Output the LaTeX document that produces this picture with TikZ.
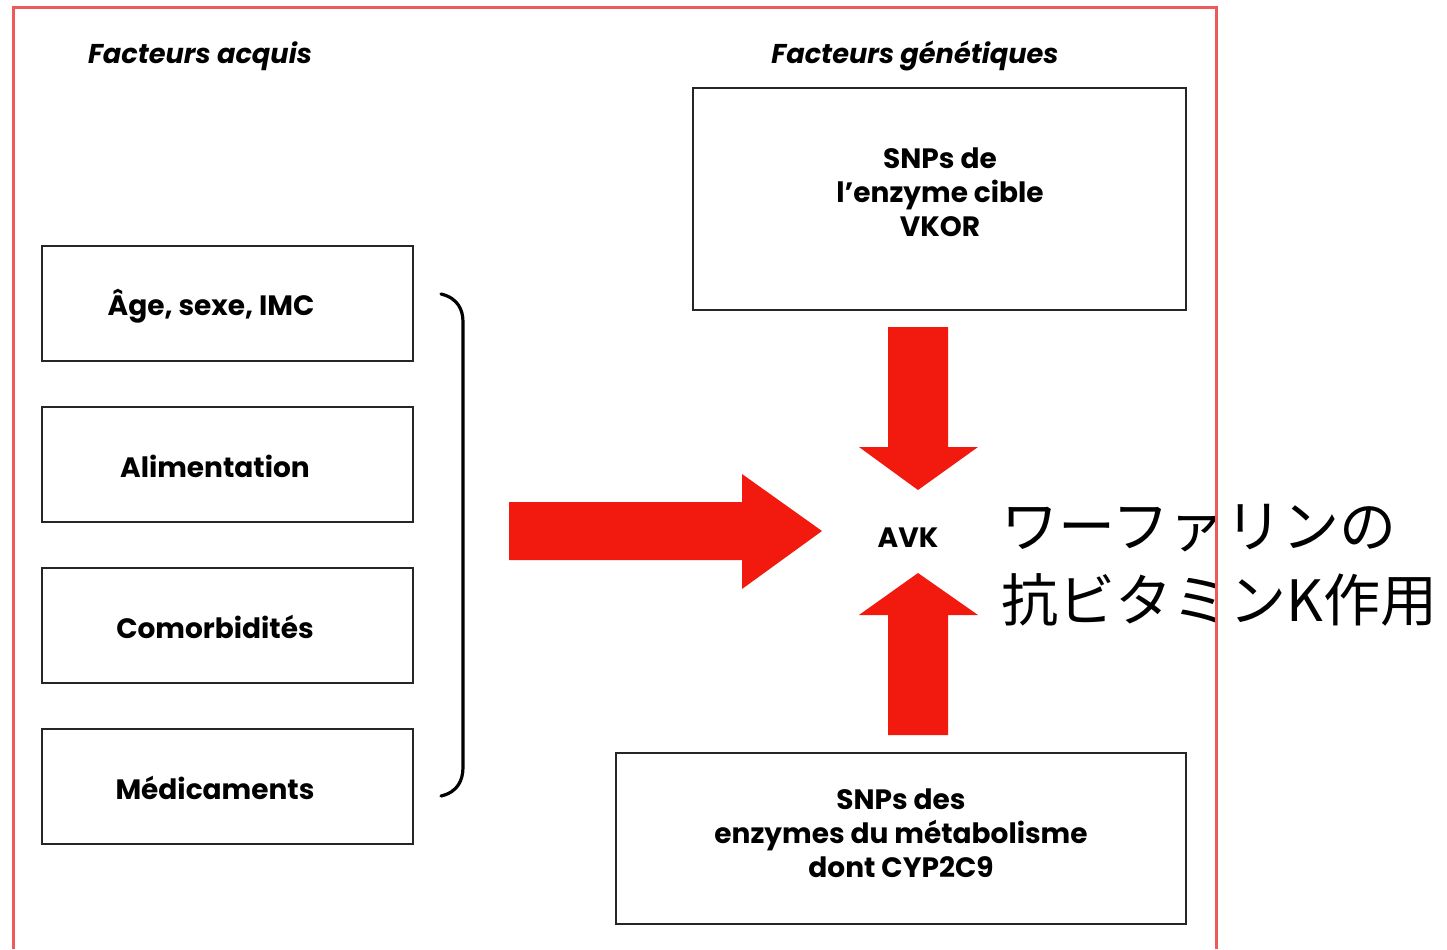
\documentclass[tikz,border=0pt]{standalone}
\usepackage{fontspec}
\setmainfont{Poppins}
\newfontfamily\cjk{Noto Sans CJK JP}
\definecolor{frame}{HTML}{EC5A5A}
\definecolor{arr}{HTML}{F21A0E}
\begin{document}
\begin{tikzpicture}[x=0.5pt,y=-0.5pt,
  box/.style={draw=black!85,line width=1.2pt},
  lbl/.style={font=\fontsize{14}{17}\selectfont\bfseries,align=center,inner sep=0pt},
  title/.style={font=\fontsize{13.6}{16}\selectfont\bfseries\itshape,inner sep=0pt},
  bigarrow/.style={fill=arr,draw=none},
  jp/.style={font=\cjk\fontsize{28.5}{36}\selectfont,align=left,inner sep=0pt,anchor=west}]
\useasboundingbox (0,0) rectangle (1447,949);
\fill[white] (0,0) rectangle (1447,949);
% titles
\node[title] (t1) at (200,56) {Facteurs acquis};
\node[title] (t2) at (915,56) {Facteurs génétiques};
% left boxes
\draw[box] (42,246) rectangle (413,361);
\draw[box] (42,407) rectangle (413,522);
\draw[box] (42,568) rectangle (413,683);
\draw[box] (42,729) rectangle (413,844);
\node[lbl] (age) at (211,306) {Âge, sexe, IMC};
\node[lbl] (ali) at (215,466) {Alimentation};
\node[lbl] (com) at (215,627) {Comorbidités};
\node[lbl] (med) at (215,788) {Médicaments};
% bracket
\draw[line width=1.6pt,line cap=round] (441,294) .. controls (458,298) and (463,310) .. (463,322)
  -- (463,767) .. controls (463,780) and (458,792) .. (441,796);
% right boxes
\draw[box] (693,88) rectangle (1186,310);
\node[lbl] (vkor) at (940,192) {SNPs de\\l’enzyme cible\\VKOR};
\draw[box] (616,753) rectangle (1186,924);
\node[lbl] (cyp) at (901,833) {SNPs des\\enzymes du métabolisme\\dont CYP2C9};
% AVK
\node[lbl] (avk) at (908,538) {AVK};
% arrows
\fill[bigarrow] (509,502) -- (742,502) -- (742,474) -- (822,531) -- (742,589) -- (742,560) -- (509,560) -- cycle;
\fill[bigarrow] (888,327) -- (948,327) -- (948,447) -- (978,447) -- (918,490) -- (859,447) -- (888,447) -- cycle;
\fill[bigarrow] (888,735) -- (948,735) -- (948,615) -- (978,615) -- (918,573) -- (859,615) -- (888,615) -- cycle;
% japanese
\node[jp] (j1) at (1001,528) {ワーファリンの};
\node[jp] (j2) at (1001,600) {抗ビタミンK作用};
% frame
\draw[frame,line width=1.5pt] (13,949) -- (13,7) -- (1216,7) -- (1216,949);
\end{tikzpicture}
\end{document}
